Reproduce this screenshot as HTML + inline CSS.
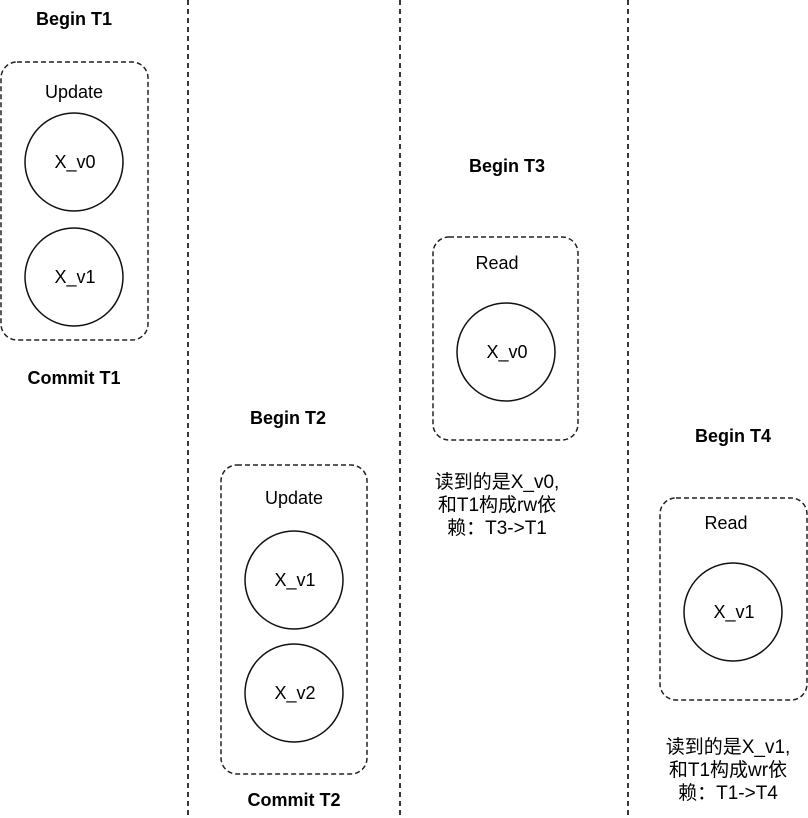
<!DOCTYPE html>
<html><head><meta charset="utf-8"><style>
html,body{margin:0;padding:0;background:#fff;}
svg{display:block;}
text{font-family:"Liberation Sans","Noto Sans CJK SC",sans-serif;fill:#000;text-anchor:middle;}
.b{font-weight:bold;font-size:18px;}
.n{font-size:18px;}
.z{font-size:19px;}
.d{fill:none;stroke:#222;stroke-width:1.5;stroke-dasharray:5,3;}
.c{fill:none;stroke:#111;stroke-width:1.5;}
.v{stroke:#222;stroke-width:1.8;stroke-dasharray:5,4;}
</style></head><body>
<svg width="808" height="818" viewBox="0 0 808 818" xmlns="http://www.w3.org/2000/svg">
<line class="v" x1="188" y1="0" x2="188" y2="818"/>
<line class="v" x1="400" y1="0" x2="400" y2="818"/>
<line class="v" x1="628" y1="0" x2="628" y2="818"/>

<text class="b" x="74" y="25">Begin T1</text>
<rect class="d" x="1" y="62" width="147" height="278" rx="16"/>
<text class="n" x="74" y="98">Update</text>
<circle class="c" cx="74" cy="162" r="49"/>
<text class="n" x="75" y="168">X_v0</text>
<circle class="c" cx="74" cy="277" r="49"/>
<text class="n" x="75" y="283">X_v1</text>
<text class="b" x="74" y="384">Commit T1</text>

<text class="b" x="288" y="424">Begin T2</text>
<rect class="d" x="221" y="465" width="146" height="309" rx="16"/>
<text class="n" x="294" y="504">Update</text>
<circle class="c" cx="294" cy="580" r="49"/>
<text class="n" x="295" y="586">X_v1</text>
<circle class="c" cx="294" cy="693" r="49"/>
<text class="n" x="295" y="699">X_v2</text>
<text class="b" x="294" y="806">Commit T2</text>

<text class="b" x="507" y="172">Begin T3</text>
<rect class="d" x="433" y="237" width="145" height="203" rx="16"/>
<text class="n" x="497" y="269">Read</text>
<circle class="c" cx="506" cy="352" r="49"/>
<text class="n" x="507" y="358">X_v0</text>
<text class="z" x="497" y="488">读到的是X_v0,</text>
<text class="z" x="497" y="511">和T1构成rw依</text>
<text class="z" x="497" y="534">赖：T3-&gt;T1</text>

<text class="b" x="733" y="442">Begin T4</text>
<rect class="d" x="660" y="498" width="147" height="202" rx="16"/>
<text class="n" x="726" y="529">Read</text>
<circle class="c" cx="733" cy="612" r="49"/>
<text class="n" x="734" y="618">X_v1</text>
<text class="z" x="728" y="753">读到的是X_v1,</text>
<text class="z" x="728" y="776">和T1构成wr依</text>
<text class="z" x="728" y="799">赖：T1-&gt;T4</text>
</svg>
</body></html>
